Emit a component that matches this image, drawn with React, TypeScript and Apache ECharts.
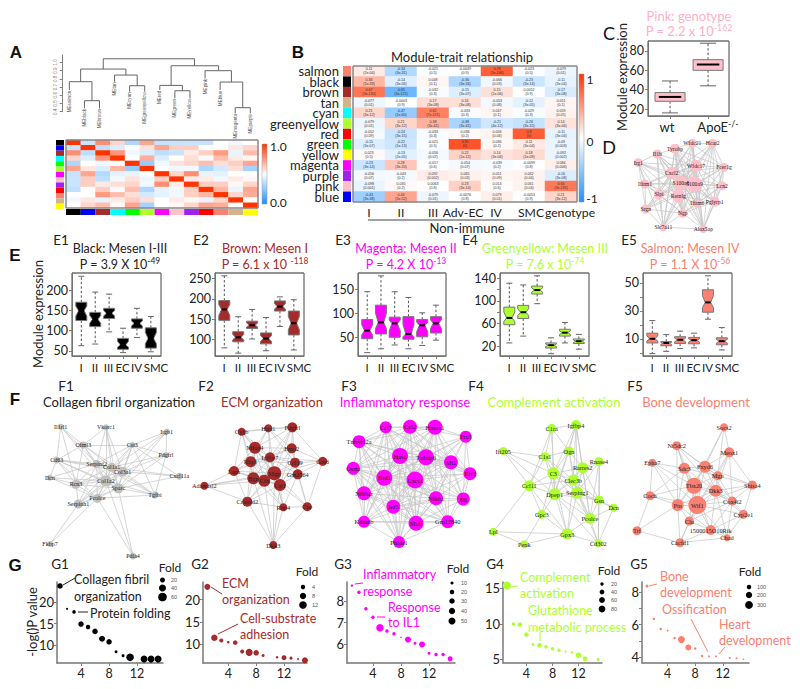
import React, { useEffect, useRef } from "react";
import * as echarts from "echarts";

const FONT = "Lato";
const SERIF = "Liberation Serif";
const SANS = "Liberation Sans";
const BROWN = "#A52A2A", MAGENTA = "#FF00FF", GY = "#ADFF2F", SALMON = "#FA8072", PINK = "#FFB0C8";

// Panel A
const aModuleColors = ["#000000", "#0000FF", "#A52A2A", "#00FFFF", "#00FF00", "#ADFF2F", "#FF00FF", "#FFC0CB", "#A020F0", "#FF0000", "#FA8072", "#D2B48C", "#FFFF00"];
const aMatrix = [
  [1, .38, .78, .6, .32, .72, .37, .38, .38, .37, .5, .47, .5],
  [.38, 1, .35, .42, .5, .57, .72, .62, .62, .5, .5, .56, .6],
  [.78, .35, 1, .76, .47, .42, .35, .38, .55, .62, .75, .45, .66],
  [.6, .42, .76, 1, .5, .7, .42, .5, .58, .48, .66, .55, .52],
  [.32, .5, .47, .5, 1, .27, .47, .57, .6, .66, .58, .62, .72],
  [.72, .56, .42, .68, .27, 1, .5, .47, .47, .32, .4, .58, .3],
  [.37, .72, .33, .44, .45, .5, 1, .6, .78, .45, .44, .5, .5],
  [.38, .62, .36, .47, .57, .46, .62, 1, .55, .55, .47, .55, .52],
  [.38, .62, .55, .58, .6, .47, .78, .55, 1, .62, .62, .52, .6],
  [.36, .5, .62, .48, .66, .32, .45, .47, .62, 1, .68, .45, .72],
  [.5, .5, .75, .66, .58, .4, .44, .47, .62, .68, 1, .6, .7],
  [.47, .56, .45, .55, .62, .58, .5, .55, .52, .45, .6, 1, .5],
  [.5, .6, .66, .52, .72, .3, .5, .52, .6, .72, .7, .5, 1],
];
const leafNames = ["MEsalmon", "MEblack", "MEbrown", "MEtan", "MEcyan", "MEgreenyellow", "MEred", "MEgreen", "MEyellow", "MEpink", "MEblue", "MEmagenta", "MEpurple"];
const leafHeights = [.663, .44, .44, .765, .643, .643, .663, .562, .562, .805, .663, .38, .38];
const merges = [
  [1, 2, .534, .44, .44], [0, 1.5, .765, .663, .534], [4, 5, .716, .643, .643], [3, 4.5, .846, .765, .716],
  [.75, 3.75, .919, .765, .846], [7, 8, .655, .562, .562], [6, 7.5, .72, .663, .655], [11, 12, .449, .38, .38],
  [10, 11.5, .761, .663, .449], [9, 10.75, .899, .805, .761], [6.75, 9.9, .959, .72, .899], [2.25, 8.3, 1.044, .919, .959],
];

// Panel B
const bRows = ["salmon", "black", "brown", "tan", "cyan", "greenyellow", "red", "green", "yellow", "magenta", "purple", "pink", "blue"];
const bRowColors = ["#FA8072", "#000000", "#A52A2A", "#D2B48C", "#00FFFF", "#ADFF2F", "#FF0000", "#00FF00", "#FFFF00", "#FF00FF", "#A020F0", "#FFC0CB", "#0000FF"];
const bCols = ["I", "II", "III", "Adv-EC", "IV", "SMC", "genotype"];
const bValues = [
  [0.11, -0.34, -0.021, -0.0049, 0.78, -0.023, -0.079],
  [0.36, -0.14, 0.048, -0.36, -0.066, -0.23, -0.11],
  [0.67, -0.65, -0.032, -0.15, 0.15, 0.0052, -0.17],
  [-0.077, -0.0003, 0.17, 0.16, -0.053, -0.12, 0.051],
  [0.21, -0.47, 0.62, -0.033, 0.047, -0.029, 0.059],
  [-0.079, 0.21, 0.38, -0.38, -0.21, -0.26, 0.14],
  [-0.052, -0.24, -0.033, 0.036, 0.056, 0.8, -0.11],
  [-0.15, -0.22, -0.021, 0.85, 0.036, 0.11, -0.09],
  [0.023, -0.13, -0.056, 0.22, 0.14, 0.18, -0.092],
  [-0.23, 0.28, -0.017, -0.054, -0.039, -0.0099, 0.084],
  [-0.056, -0.043, 0.092, 0.065, 0.051, 0.062, -0.16],
  [-0.098, 0.035, 0.0063, 0.23, 0.014, 0.061, 0.66],
  [-0.43, 0.44, -0.079, -0.0076, 0.079, -0.0053, 0.21],
];
const bPvalues = [
  ["2e-04", "3e-31", "0.5", "0.9", "3e-186", "0.5", "0.01"],
  ["1e-33", "3e-06", "0.1", "3e-34", "0.03", "3e-14", "3e-04"],
  ["3e-130", "3e-121", "0.3", "3e-07", "1e-06", "0.9", "3e-08"],
  ["0.01", "0.9", "3e-08", "3e-08", "0.08", "3e-05", "0.1"],
  ["3e-12", "1e-60", "7e-121", "0.3", "0.1", "0.3", "0.05"],
  ["0.01", "3e-12", "3e-41", "3e-41", "4e-12", "3e-15", "3e-06"],
  ["0.09", "3e-15", "0.3", "0.2", "0.06", "0", "3e-04"],
  ["3e-07", "1e-13", "0.5", "0", "0.2", "3e-04", "0.003"],
  ["0.5", "2e-05", "0.07", "1e-12", "3e-06", "1e-09", "0.002"],
  ["3e-14", "3e-20", "0.6", "0.07", "0.2", "0.8", "0.006"],
  ["0.07", "0.2", "0.002", "0.03", "0.09", "0.04", "3e-08"],
  ["0.001", "0.2", "0.8", "3e-14", "0.6", "0.04", "3e-135"],
  ["3e-48", "5e-52", "0.01", "0.8", "0.01", "0.9", "3e-12"],
];

// Panel C and E boxes: low, q1, median, q3, high
const cBoxes = [[16, 28, 32.5, 37, 49], [44, 60, 66, 71, 88]];
const e1Boxes = [[63, 125, 149, 170, 234], [67, 110, 128, 145, 195], [97, 130, 143, 155, 190], [46, 54, 65, 81, 106], [83, 106, 118, 129, 155], [48, 57, 81, 107, 135]];
const e2Boxes = [[79, 147, 174, 196, 257], [66, 94, 105, 119, 156], [101, 127, 135, 145, 174], [72, 89, 102, 116, 154], [132, 170, 181, 195, 205], [74, 111, 140, 170, 198]];
const e3Boxes = [[18, 47, 64, 87, 145], [26, 57, 81, 117, 178], [34, 50, 79, 92, 145], [26, 46, 57, 93, 133], [33, 51, 75, 87, 101], [44, 59, 79, 93, 117]];
const e4Boxes = [[26, 58, 70, 89, 131], [38, 69, 80, 92, 128], [95, 112, 119, 126, 144], [7, 17, 22, 26, 35], [26, 38, 44, 50, 62], [15, 25, 29, 33, 41]];
const e5Boxes = [[-0.6, 7, 10, 14, 23], [1, 5, 7, 8, 13], [3, 6.6, 9.3, 11.5, 15.5], [3.5, 6.4, 9, 11, 14], [24, 29, 36, 45, 55], [2, 5.7, 8.3, 10.7, 18]];
const eLabels = ["I", "II", "III", "EC", "IV", "SMC"];

// Networks: gene names, [x, y, node diameter], neighbour lists (base-36 node index)
const dGenes = ["Irg1", "Il1b", "Tyrobp", "Wfdc21", "Hcar2", "Wfdc17", "Fcer1g", "Cxcl2", "Ifitm1", "S100a8", "S100a9", "Lcn2", "Slpi", "Retnlg", "Ifitm6", "Pglyrp1", "Srgn", "Ngp", "Slc7a11", "Alox5ap"];
const dNodes = [[638.3, 162.7, 9], [657.3, 154, 9], [675, 148.7, 10], [692.3, 143.3, 9], [712.7, 143.3, 9], [696, 165.7, 12], [724, 167.3, 9], [671.7, 172.7, 12], [645, 184, 9], [681, 182.7, 14], [694.3, 184.3, 16], [722, 185.7, 9], [659, 194.3, 10], [678.3, 196, 13], [697.3, 203.3, 9], [714.7, 201.7, 10], [645.7, 209, 9], [682.7, 213.3, 9], [663.3, 227.3, 8], [703.3, 229, 8]];
const dEdges = "0:15789acdgi 1:2579acdefhi 2:35679adefhij 3:45679aceghj 4:5679abdefj 5:6789abcdefghij 6:79abdefj 7:89abcdefghij 8:9acdgh 9:abcdefghij a:bcdefghij b:defhj c:dghi d:efghij e:fhj f:hj g:hi h:ij i:j";
const f1Genes = ["Il1rl1", "Vkorc1", "Itgb1", "Ofml3", "Cst3", "Pdgfrl", "Cd63", "Serpinf2", "Col1a1", "Col3a1", "Dcn", "Cxcl11a", "Rcn3", "Col1a2", "Sparc", "Tgfbi", "Pcolce", "Serpinh1", "Fkbp7", "Pdia4"];
const f1Nodes = [[60.7, 426.7, 6], [106, 427.3, 6], [166.7, 431.7, 6], [83.3, 445, 7], [132.3, 445, 6], [166, 455, 6], [56.7, 460, 7], [96.7, 463.7, 8], [111.7, 467.3, 9], [122.7, 471.7, 10], [50, 477.7, 6], [179.3, 476.3, 7], [76, 484.3, 9], [106, 481, 11], [118.3, 488.3, 10], [155, 495, 7], [97.3, 498.3, 9], [78.3, 504, 9], [50, 544, 6], [133, 556, 7]];
const f1Edges = "0:367dc 1:3789de 2:4589e 3:46789cd 4:5789defb 5:89ef 6:789acdeg 7:89acdefgh 8:9bcdefgh 9:bcdefgh a:cdg b:e c:degh d:efghj e:fghj f:g g:hij h:i";
const f2Genes = ["Cygb", "Htra1", "Pdgfrl", "Mfap4", "Fmo2", "Rbp1", "Igfbp7", "Ccl19", "Gas6", "Lum", "Mgp", "Gm2564", "Adamtsl2", "Bgn", "Cfh", "Cst1", "Crispld2", "Rbp4", "Cpe", "Dkk3"];
const f2Nodes = [[241.7, 431.7, 8], [268.3, 428.3, 8], [292.3, 427.3, 10], [255, 447.7, 12], [291.7, 448.3, 10], [250.7, 461.7, 11], [270, 457.3, 10], [295, 462.7, 10], [322.7, 461.3, 9], [234, 471, 10], [274.3, 473.3, 14], [297.7, 474.3, 10], [204.3, 485.7, 8], [253.3, 478.3, 12], [264.3, 480.7, 12], [280, 485, 12], [247.3, 501.7, 10], [283.3, 507.3, 8], [307.3, 506.7, 9], [273.3, 545, 8]];
const f2Edges = "0:12356a9d 1:23456a7 2:34678ae 3:456a9def 4:5678abf 5:679adefg 6:789abdefh 7:8abfi 8:abi 9:acdefg a:bcdefghij b:fhi c:deg d:efghj e:fghj f:ghij g:hj h:ij i:j";
const f3Genes = ["Ccl7", "Tnfrsf12a", "Has1", "Osmr", "Ifrd1", "Nfkbiz", "Ier5", "Kdm6b", "Phlda1", "Ccl2", "Hmox1", "Ptx3", "Tnfaip6", "Mt2", "Il1r2", "Cxcl1", "Nfkb1", "Il6", "Maff", "Gm12840"];
const f3Nodes = [[385.7, 427.3, 12], [359, 441.7, 13], [400, 456, 16], [353.3, 468.3, 13], [384.3, 477.7, 16], [364, 493.3, 14], [393.3, 506.7, 14], [364, 521.7, 12], [399, 542, 12], [410, 426.7, 14], [435, 427.3, 15], [465.7, 436.7, 12], [426, 457.3, 16], [451, 462.3, 14], [470, 473.7, 13], [415, 480, 17], [436, 498.3, 14], [463.3, 499, 13], [416, 523.3, 15], [447.7, 521.7, 13]];
const f3Edges = "0:123456789acdefgi 1:23456789acdfgi 2:3456789abcdefghij 3:456789acdfgij 4:56789abcdefghij 5:6789acfgij 6:789abcdefghij 7:89cfgij 8:9cfgij 9:abcdefghi a:bcdefghij b:cdefgh c:defghij d:efghij e:fghj f:ghij g:hij h:ij i:j";
const f4Genes = ["C1ra", "Igfbp4", "Ifi205", "Ogn", "C1s1", "Rnase4", "Rarres2", "C3", "Clec3b", "Ccl11", "Dpep1", "Serping1", "Gsn", "Dcn", "Gpc3", "Pcolce", "Gpx3", "Lpl", "Penk", "Cd302"];
const f4Nodes = [[551.7, 428.3, 9], [576, 425, 10], [503.3, 451, 8], [569, 451, 9], [545, 456.7, 9], [599, 461.7, 9], [582.7, 467.7, 11], [553.3, 473.3, 12], [573.3, 480, 11], [529.3, 485.7, 11], [554.7, 494.3, 12], [577.3, 492.7, 12], [599, 500, 9], [613.7, 507.7, 8], [541.7, 514.3, 9], [590, 518.3, 11], [567.3, 534, 11], [493.3, 531.7, 8], [524.3, 544.3, 8], [598.3, 543.3, 8]];
const f4Edges = "0:13479a 1:3678abf 2:479a 3:4678ab 4:789ab 5:68bcfj 6:78abcf 7:89abefg 8:9abcfg 9:aegh a:bcefgj b:cdfgj c:dfj d:fj e:gi f:gj g:hij h:i";
const f5Genes = ["Socs2", "Nt5dc2", "Meox1", "Epha7", "Sdc3", "Fxyd6", "Mgp", "Shisa4", "Tbx20", "Dkk3", "Coch", "Cox4i2", "Ptn", "Wif1", "Cyp2e1", "Clu", "1500015O10Rik", "Trf", "Chad", "Cacfd1"];
const f5Nodes = [[724, 427.3, 8], [676.7, 445.7, 9], [729.3, 452.3, 10], [652.3, 462.7, 8], [684.3, 468.3, 11], [705, 466.7, 12], [717.7, 475.7, 9], [752.3, 485, 9], [694, 485.7, 16], [715.7, 490.7, 12], [650, 495.7, 9], [732.3, 501, 9], [677.7, 505, 12], [697.3, 505, 18], [743.3, 514.3, 9], [689.3, 521, 9], [710.7, 530, 10], [637, 530.7, 9], [727, 537.7, 7], [680, 542.7, 9]];
const f5Edges = "0:2568 1:45689cd 2:5679bd 3:48acd 4:5689acd 5:6789bcd 6:789bd 7:9bde 8:9abcdfg 9:bcdefgi a:cdh b:defgi c:dfghj d:efgij e:gi f:gj g:ij h:j i:j";

// Panel G: rank, -log(P), fold
const g1Points = [[1, 23.7, 24], [2, 18.4, 3], [3, 17.7, 10], [4, 14.9, 24], [5, 14.2, 16], [6, 13.2, 24], [7, 11.5, 29], [8, 10.8, 24], [9, 8.5, 7], [10, 7.6, 7], [11, 7.2, 45], [13, 6.8, 39], [14, 6.8, 39], [15, 6.8, 39]];
const g2Points = [[1, 22.9, 7.4], [2, 11.4, 8.7], [3, 10.8, 3.3], [4, 10.4, 1.3], [5, 10.3, 4.2], [6, 8.3, 3.3], [7, 8.1, 10], [8, 8, 6.3], [9, 7.4, 1.9], [11, 7, 1.3], [12, 6.9, 5.2], [13, 6.8, 1.9], [14, 6.6, 0.8], [15, 6.3, 7.4]];
const g3Points = [[1, 8.73, 6], [2, 8.42, 12], [3, 7.64, 12], [4, 7.25, 12], [5, 6.75, 56], [6, 6.6, 12], [7, 6.47, 12], [8, 6.3, 2], [9, 6.2, 36], [10, 6.03, 9], [11, 5.97, 36], [12, 5.56, 9], [13, 5.5, 12], [14, 5.5, 12], [15, 5.3, 25]];
const g4Points = [[1, 15.4, 114], [2, 10, 22], [3, 9.9, 36], [4, 8.5, 36], [5, 7.1, 16], [6, 7, 36], [7, 6.8, 22], [8, 6.5, 22], [9, 6.3, 22], [10, 6.1, 7], [11, 6, 11], [12, 5.6, 54], [13, 5.1, 36], [15, 5, 16]];
const g5Points = [[1, 8.35, 44], [2, 6.35, 31], [3, 5.73, 31], [4, 5.63, 20], [5, 5.18, 31], [6, 5.08, 242], [7, 4.6, 178], [8, 4.53, 31], [9, 4.08, 31], [10, 4.06, 20], [11, 4.06, 20], [13, 3.96, 20], [14, 3.94, 20], [15, 3.88, 11]];

function T(text: string, x: number, y: number, size: number, color = "#222", o: any = {}) {
  return {
    type: "text", x, y, rotation: o.rot || 0, silent: true,
    style: { text, fill: color, fontSize: size, fontFamily: o.font || FONT, fontWeight: o.bold ? "bold" : "normal", textAlign: o.align || "center", textVerticalAlign: "middle" },
  };
}
function S(base: string, sup: string, x: number, y: number, size: number, color: string, align = "center") {
  return {
    type: "text", x, y, silent: true,
    style: {
      text: `{a|${base}}{s|${sup}}`, textAlign: align, textVerticalAlign: "middle", fontFamily: FONT,
      rich: {
        a: { fontSize: size, fill: color, fontFamily: FONT, lineHeight: size + 3 },
        s: { fontSize: size * 0.68, fill: color, fontFamily: FONT, verticalAlign: "top", lineHeight: size + 3 },
      },
    },
  };
}
function L(x1: number, y1: number, x2: number, y2: number, color: string, w = 1) {
  return { type: "line", z: 20, silent: true, shape: { x1, y1, x2, y2 }, style: { stroke: color, lineWidth: w } };
}
function frame(l: number, t: number, r: number, b: number, color = "#707070", w = 1.3) {
  return [L(l, t, r, t, color, w), L(r, t, r, b, color, w), L(r, b, l, b, color, w), L(l, b, l, t, color, w)];
}

const boxRender = (color: string, boxW: number, notch: boolean, capHalf: number) => (params: any, api: any) => {
  const x = api.value(0);
  const [low, q1, med, q3, high] = [1, 2, 3, 4, 5].map((i) => api.value(i));
  const P = (v: number) => api.coord([x, v]);
  const cx = P(med)[0];
  const yLow = P(low)[1], yQ1 = P(q1)[1], yMed = P(med)[1], yQ3 = P(q3)[1], yHigh = P(high)[1];
  const h = boxW / 2;
  const dash = { stroke: "#555", lineWidth: 1, lineDash: [2.5, 2] };
  const cap = { stroke: "#666", lineWidth: 1 };
  const n1 = yMed + (yQ1 - yMed) * 0.55, n3 = yMed + (yQ3 - yMed) * 0.55;
  const pts = notch
    ? [[cx - h, yQ1], [cx + h, yQ1], [cx + h, n1], [cx + h * 0.5, yMed], [cx + h, n3], [cx + h, yQ3], [cx - h, yQ3], [cx - h, n3], [cx - h * 0.5, yMed], [cx - h, n1]]
    : [[cx - h, yQ1], [cx + h, yQ1], [cx + h, yQ3], [cx - h, yQ3]];
  const mh = notch ? h * 0.5 : h * 0.75;
  return {
    type: "group",
    children: [
      { type: "line", shape: { x1: cx, y1: yQ3, x2: cx, y2: yHigh }, style: dash },
      { type: "line", shape: { x1: cx, y1: yQ1, x2: cx, y2: yLow }, style: dash },
      { type: "line", shape: { x1: cx - capHalf, y1: yHigh, x2: cx + capHalf, y2: yHigh }, style: cap },
      { type: "line", shape: { x1: cx - capHalf, y1: yLow, x2: cx + capHalf, y2: yLow }, style: cap },
      { type: "polygon", shape: { points: pts }, style: { fill: color, stroke: "#777", lineWidth: 1 } },
      { type: "line", shape: { x1: cx - mh, y1: yMed, x2: cx + mh, y2: yMed }, style: { stroke: "#000", lineWidth: 2 } },
    ],
  };
};

function buildOption() {
  const grid: any[] = [], xAxis: any[] = [], yAxis: any[] = [], series: any[] = [], gfx: any[] = [], visualMap: any[] = [];
  const addGrid = (l: number, t: number, r: number, b: number) => {
    grid.push({ left: l, top: t, width: r - l, height: b - t });
    return grid.length - 1;
  };
  const axisStyle = { lineStyle: { color: "#808080", width: 1 } };
  const hiddenCat = (data: any[], gi: number, inverse = false) => ({ type: "category", data, gridIndex: gi, show: false, inverse });
  const numAxis = (gi: number, min: number, max: number, labels: number[], ticks: number[], fs = 12, extra: any = {}) => ({
    type: "value", gridIndex: gi, min, max, scale: true, splitLine: { show: false },
    axisLine: { show: true, onZero: false, ...axisStyle },
    axisTick: { show: true, length: 3, customValues: ticks, lineStyle: { color: "#808080" } },
    axisLabel: { show: true, customValues: labels, showMinLabel: true, showMaxLabel: true, fontSize: fs, fontFamily: FONT, color: "#222", margin: 4, ...(extra.label || {}) },
    ...(extra.axis || {}),
  });

  // overlay grid, one unit per pixel, for the network layouts
  const ov = addGrid(0, 0, 800, 689);
  xAxis.push({ type: "value", gridIndex: ov, min: 0, max: 800, show: false });
  yAxis.push({ type: "value", gridIndex: ov, min: 0, max: 689, inverse: true, show: false });
  const network = (genes: string[], nodes: number[][], edges: string, color: string, fs = 6.3) => {
    const links = edges.split(" ").flatMap((tok) => {
      const [a, b] = tok.split(":");
      return [...b].map((c) => ({ source: parseInt(a, 36), target: parseInt(c, 36) }));
    });
    series.push({
      type: "graph", coordinateSystem: "cartesian2d", xAxisIndex: ov, yAxisIndex: ov, layout: "none", silent: true, roam: false,
      data: genes.map((name, i) => ({ name, value: [nodes[i][0], nodes[i][1]], symbolSize: nodes[i][2] })),
      links,
      itemStyle: { color, opacity: 1 },
      lineStyle: { color: "#c4c4c4", width: 0.7, opacity: 1, curveness: 0 },
      label: { show: true, position: "inside", fontSize: fs, fontFamily: SERIF, color: "#222", formatter: "{b}" },
      labelLayout: { hideOverlap: false },
    });
  };
  network(dGenes, dNodes, dEdges, "#FFC0CB", 5.6);
  network(f1Genes, f1Nodes, f1Edges, "#C0C0C0", 6);
  network(f2Genes, f2Nodes, f2Edges, BROWN);
  network(f3Genes, f3Nodes, f3Edges, MAGENTA);
  network(f4Genes, f4Nodes, f4Edges, GY);
  network(f5Genes, f5Nodes, f5Edges, SALMON);

  const colorStrip = (colors: string[], vertical: boolean, l: number, t: number, r: number, b: number, rowNames?: string[]) => {
    const gi = addGrid(l, t, r, b);
    const idx = colors.map((_, i) => i);
    if (vertical) {
      xAxis.push(hiddenCat(["c"], gi));
      yAxis.push(rowNames ? {
        type: "category", data: rowNames, gridIndex: gi, inverse: true,
        axisLine: { show: false }, axisTick: { show: false },
        axisLabel: { fontSize: 13, fontFamily: FONT, color: "#222", margin: 4, interval: 0, hideOverlap: false },
      } : hiddenCat(idx, gi, true));
    } else {
      xAxis.push(hiddenCat(idx, gi));
      yAxis.push(hiddenCat(["c"], gi));
    }
    series.push({
      type: "custom", xAxisIndex: gi, yAxisIndex: gi, silent: true, encode: { x: 0, y: 1 },
      data: colors.map((_, i) => (vertical ? [0, i] : [i, 0])),
      renderItem: (params: any, api: any) => {
        const p = api.coord([api.value(0), api.value(1)]);
        const s = api.size([1, 1]);
        return { type: "rect", shape: { x: p[0] - s[0] / 2, y: p[1] - s[1] / 2, width: s[0], height: s[1] }, style: { fill: colors[params.dataIndex] } };
      },
    });
  };

  // Panel A: dendrogram
  const dg = addGrid(62.7, 55, 253, 111.7);
  xAxis.push({ type: "value", gridIndex: dg, min: -0.44, max: 12.18, show: false });
  yAxis.push(numAxis(dg, 0.4, 1.09, [0.4, 0.5, 0.6, 0.7, 0.8, 0.9, 1.0], [0.4, 0.5, 0.6, 0.7, 0.8, 0.9, 1.0], 4.6, {
    label: { rotate: 90, color: "#777", fontFamily: SANS, margin: 5, formatter: (v: number) => v.toFixed(1) },
  }));
  series.push({
    type: "custom", xAxisIndex: dg, yAxisIndex: dg, silent: true, encode: { x: [0, 1], y: [2, 3, 4] }, data: merges,
    renderItem: (_: any, api: any) => {
      const [a, b, h, ha, hb] = [0, 1, 2, 3, 4].map((i) => api.value(i));
      return {
        type: "polyline",
        shape: { points: [api.coord([a, ha]), api.coord([a, h]), api.coord([b, h]), api.coord([b, hb])] },
        style: { stroke: "#666", lineWidth: 1, fill: "none" },
      };
    },
  });
  series.push({
    type: "custom", xAxisIndex: dg, yAxisIndex: dg, silent: true, encode: { x: 0, y: 1 }, data: leafHeights.map((h, i) => [i, h]),
    renderItem: (_: any, api: any) => {
      const i = api.value(0);
      const p = api.coord([i, api.value(1)]);
      return {
        type: "text", x: p[0], y: p[1] + 0.5, rotation: Math.PI / 2,
        style: { text: leafNames[i], fill: "#555", fontSize: 4.6, fontFamily: SANS, textAlign: "right", textVerticalAlign: "middle" },
      };
    },
  });

  // Panel A: heatmap
  const ah = addGrid(66, 140, 258, 208);
  xAxis.push(hiddenCat(aModuleColors.map((_, i) => i), ah));
  yAxis.push(hiddenCat(aModuleColors.map((_, i) => i), ah, true));
  series.push({ type: "heatmap", xAxisIndex: ah, yAxisIndex: ah, silent: true, data: aMatrix.flatMap((row, y) => row.map((v, x) => [x, y, v])) });
  visualMap.push({ show: false, type: "continuous", seriesIndex: series.length - 1, min: 0, max: 1, dimension: 2, inRange: { color: ["#1E90FF", "#ffffff", "#FF3300"] } });
  colorStrip(aModuleColors, true, 56, 140, 64, 209);
  colorStrip(aModuleColors, false, 66, 209, 258, 215);
  const cbar = (x: number, y: number, w: number, h: number) => ({
    type: "rect", silent: true, shape: { x, y, width: w, height: h },
    style: { stroke: "#999", lineWidth: 0.5, fill: new echarts.graphic.LinearGradient(0, 0, 0, 1, [{ offset: 0, color: "#FF3300" }, { offset: 0.5, color: "#ffffff" }, { offset: 1, color: "#1E90FF" }]) },
  });
  gfx.push(...frame(66, 140, 258, 208, "#888", 1.5), cbar(262, 144, 5, 60), T("1.0", 270, 146, 12, "#222", { align: "left" }), T("0.0", 270, 202, 12, "#222", { align: "left" }));

  // Panel B
  const bh = addGrid(353, 66, 577, 202);
  xAxis.push(hiddenCat(bCols, bh));
  yAxis.push(hiddenCat(bRows, bh, true));
  series.push({
    type: "heatmap", xAxisIndex: bh, yAxisIndex: bh, silent: true,
    data: bValues.flatMap((row, y) => row.map((v, x) => [x, y, v])),
    label: {
      show: true, fontSize: 3.6, lineHeight: 4, fontFamily: SANS, color: "#333",
      formatter: (p: any) => `${p.value[2]}\n(${bPvalues[p.value[1]][p.value[0]]})`,
    },
    labelLayout: { hideOverlap: false },
  });
  visualMap.push({ show: false, type: "continuous", seriesIndex: series.length - 1, min: -1, max: 1, dimension: 2, inRange: { color: ["#1E90FF", "#ffffff", "#FF3300"] } });
  colorStrip(bRowColors, true, 343, 66, 351, 202, bRows);
  gfx.push(
    ...frame(353, 66, 577, 202, "#888", 1.5),
    cbar(579, 74, 5, 128),
    T("1", 590, 79, 12), T("0", 590, 141, 12), T("-1", 592, 198, 12),
    T("Module-trait relationship", 462, 57, 13),
    L(368, 220, 531, 220, "#444", 1),
    T("Non-immune", 467, 228, 13),
  );
  const bx = [369, 401, 433, 463, 496, 531, 570];
  bCols.forEach((c, i) => gfx.push(T(c, bx[i], 212, 12.2)));

  // Panel C
  const cg = addGrid(648, 41, 729, 116);
  xAxis.push(numAxis(cg, 0.42, 2.55, [], [1, 2], 12, { label: { show: false } }));
  yAxis.push(numAxis(cg, 12.8, 90.3, [20, 40, 60, 80], [20, 40, 60, 80], 12.5));
  series.push({
    type: "custom", xAxisIndex: cg, yAxisIndex: cg, silent: true, encode: { x: 0, y: [1, 2, 3, 4, 5] },
    data: cBoxes.map((b, i) => [i + 1, ...b]), renderItem: boxRender("#FFC0CB", 30, false, 8),
  });
  gfx.push(
    ...frame(648, 41, 729, 116),
    T("Pink: genotype", 689, 16, 13, PINK),
    S("P = 2.2 x 10", "-162", 689, 31, 13, PINK),
    T("Module expression", 622, 77, 13, "#222", { rot: Math.PI / 2 }),
    T("wt", 667, 127, 13),
    S("ApoE", "-/-", 718, 127, 13, "#222"),
  );

  // Panel E
  const ePanels = [
    { l: 72, r: 161, y: [37.6, 242], lab: [50, 100, 150, 200], tick: [50, 100, 150, 200], c: "#000000", d: e1Boxes, nm: "E1", nx: 61, t: "Black: Mesen I-III", tx: 120, pa: "P = 3.9 X 10", pb: "-49", tc: "#222" },
    { l: 215, r: 304, y: [59, 264], lab: [100, 150, 200, 250], tick: [100, 150, 200, 250], c: BROWN, d: e2Boxes, nm: "E2", nx: 201, t: "Brown: Mesen I", tx: 265, pa: "P = 6.1 x 10 ", pb: "-118", tc: BROWN },
    { l: 358, r: 446, y: [11, 184], lab: [50, 100, 150], tick: [50, 100, 150], c: MAGENTA, d: e3Boxes, nm: "E3", nx: 343, t: "Magenta: Mesen II", tx: 406, pa: "P = 4.2 X 10", pb: "-13", tc: MAGENTA },
    { l: 500, r: 589, y: [3, 149], lab: [20, 60, 100, 140], tick: [20, 40, 60, 80, 100, 120, 140], c: GY, d: e4Boxes, nm: "E4", nx: 470, t: "Greenyellow: Mesen III", tx: 545, pa: "P = 7.6 x 10", pb: "-74", tc: GY },
    { l: 643, r: 732, y: [-2.3, 57], lab: [10, 30, 50], tick: [0, 10, 20, 30, 40, 50], c: SALMON, d: e5Boxes, nm: "E5", nx: 629, t: "Salmon: Mesen IV", tx: 690, pa: "P = 1.1 X 10", pb: "-56", tc: SALMON },
  ];
  const eLabelOffsets = [9, 23, 36.5, 50.5, 64.5, 84];
  ePanels.forEach((p) => {
    const g = addGrid(p.l, 273, p.r, 356);
    xAxis.push(numAxis(g, 0.33, 6.73, [], [1, 2, 3, 4, 5, 6], 12, { label: { show: false } }));
    yAxis.push(numAxis(g, p.y[0], p.y[1], p.lab, p.tick, 12.5));
    series.push({
      type: "custom", xAxisIndex: g, yAxisIndex: g, silent: true, encode: { x: 0, y: [1, 2, 3, 4, 5] },
      data: p.d.map((b, i) => [i + 1, ...b]), renderItem: boxRender(p.c, 11, true, 3),
    });
    gfx.push(...frame(p.l, 273, p.r, 356), T(p.nm, p.nx, 240, 13.5), T(p.t, p.tx, 248, 12.5, p.tc), S(p.pa, p.pb, p.tx, 264, 12.5, p.tc));
    eLabels.forEach((t, i) => gfx.push(T(t, p.l + eLabelOffsets[i], 367, 11.5)));
  });
  gfx.push(T("Module expression", 38, 314, 13, "#222", { rot: Math.PI / 2 }));

  // Panel F headers
  [["F1", 66], ["F2", 206], ["F3", 349], ["F4", 476], ["F5", 635]].forEach(([t, x]: any) => gfx.push(T(t, x, 386, 13.5)));
  gfx.push(
    T("Collagen fibril organization", 119, 402, 13, "#222"),
    T("ECM organization", 272, 402, 13, BROWN),
    T("Inflammatory response", 405, 402, 13, MAGENTA),
    T("Complement activation", 554, 402, 13, GY),
    T("Bone development", 696, 402, 13, SALMON),
  );

  // Panel G
  const gPanels = [
    { l: 57, r: 163, x: [0.57, 15.7], y: [5.9, 24.6], lab: [10, 15, 20], tick: [10, 15, 20], d: g1Points, c: "#000000", k: 1.118, nm: "G1", nx: 60 },
    { l: 203, r: 307, x: [0.37, 15.3], y: [5.7, 24], lab: [10, 15, 20], tick: [10, 15, 20], d: g2Points, c: BROWN, k: 2.2, nm: "G2", nx: 200 },
    { l: 347, r: 455, x: [0.3, 15.7], y: [5.1, 8.9], lab: [6, 7, 8], tick: [6, 7, 8], d: g3Points, c: MAGENTA, k: 1, nm: "G3", nx: 343 },
    { l: 503, r: 602, x: [0.4, 15.6], y: [4.5, 15.9], lab: [5, 10, 15], tick: [5, 10, 15], d: g4Points, c: GY, k: 0.75, nm: "G4", nx: 495 },
    { l: 642, r: 749, x: [0.28, 15.8], y: [3.65, 8.6], lab: [4, 6, 8], tick: [4, 5, 6, 7, 8], d: g5Points, c: SALMON, k: 0.45, nm: "G5", nx: 639 },
  ];
  gPanels.forEach((p) => {
    const g = addGrid(p.l, 582, p.r, 663);
    xAxis.push(numAxis(g, p.x[0], p.x[1], [4, 8, 12], [4, 8, 12], 12.5, { label: { margin: 4 }, axis: { axisLine: { show: true, onZero: false, lineStyle: { color: "#777", width: 1.5 } } } }));
    yAxis.push(numAxis(g, p.y[0], p.y[1], p.lab, p.tick, 13, { label: { margin: 3 }, axis: { axisLine: { show: true, onZero: false, lineStyle: { color: "#777", width: 1.5 } } } }));
    series.push({
      type: "scatter", xAxisIndex: g, yAxisIndex: g, silent: true, data: p.d,
      symbolSize: (v: number[]) => p.k * Math.sqrt(v[2]), itemStyle: { color: p.c, opacity: 1 },
    });
    gfx.push(T(p.nm, p.nx, 564, 13.5));
  });
  const foldLegend = (cx: number, tx: number, ty: number, lx: number, items: [number, number][], k: number) => {
    gfx.push(T("Fold", tx, ty, 12));
    items.forEach(([v, y]) => {
      gfx.push({ type: "circle", silent: true, shape: { cx, cy: y, r: (k * Math.sqrt(v)) / 2 }, style: { fill: "#000" } });
      gfx.push(T(String(v), lx, y, 5.5, "#555", { font: SANS, align: "left" }));
    });
  };
  foldLegend(162.5, 170, 567, 171, [[20, 580], [40, 588], [60, 597]], 1.118);
  foldLegend(303, 307, 571, 312, [[4, 587], [8, 596], [12, 605]], 2.2);
  foldLegend(452, 458, 568, 461, [[10, 583], [20, 592], [30, 601], [40, 611], [50, 621]], 1);
  foldLegend(602, 609, 570, 611, [[20, 584], [40, 592], [60, 600], [80, 609]], 0.75);
  foldLegend(749, 750, 571, 757, [[100, 587], [200, 595], [300, 605]], 0.45);
  gfx.push(T("-log()P value", 32, 622, 13, "#222", { rot: Math.PI / 2 }));

  const note = (lines: [string, number, number][], c: string, size = 12.5) => lines.forEach(([t, x, y]) => gfx.push(T(t, x, y, size, c, { align: "left" })));
  note([["Collagen fibril", 74, 579], ["organization", 74, 596], ["Protein folding", 90, 613]], "#222");
  gfx.push(L(63, 585, 75, 578, "#222"), L(78, 612, 88, 612, "#222"));
  note([["ECM", 222, 583], ["organization", 222, 599], ["Cell-substrate", 240, 618], ["adhesion", 240, 634]], BROWN);
  gfx.push(L(211, 587, 222, 594, BROWN), L(218, 634, 238, 624, BROWN));
  note([["Inflammatory", 363, 574], ["response", 363, 591], ["Response", 388, 607], ["to IL1", 388, 622]], MAGENTA);
  gfx.push(L(355, 584, 363, 583, MAGENTA), L(377, 617, 385, 617, MAGENTA));
  note([["Complement", 520, 577], ["activation", 520, 593], ["Glutathione", 528, 610], ["metabolic process", 528, 627]], GY);
  gfx.push(L(511, 587, 518, 586, GY), L(540, 632, 540, 641, GY));
  note([["Bone", 660, 576], ["development", 660, 592], ["Ossification", 662, 609], ["Heart", 719, 624], ["development", 719, 640]], SALMON);
  gfx.push(L(649, 586, 657, 584, SALMON), L(691, 619, 708, 652, SALMON), L(719, 654, 725, 647, SALMON));

  // Panel letters
  gfx.push(
    T("A", 16, 52, 17, "#111", { bold: true, font: SANS }),
    T("B", 298, 52, 17, "#111", { bold: true, font: SANS }),
    T("C", 609, 33, 18, "#111"),
    T("D", 609, 147, 18, "#111"),
    T("E", 15, 255, 17, "#111", { bold: true, font: SANS }),
    T("F", 15, 399, 17, "#111", { bold: true, font: SANS }),
    T("G", 15, 565, 17, "#111", { bold: true, font: SANS }),
  );

  return { animation: false, backgroundColor: "#fff", grid, xAxis, yAxis, series, visualMap, graphic: { elements: gfx } };
}

export default function App() {
  const ref = useRef<HTMLDivElement>(null);
  useEffect(() => {
    document.body.style.margin = "0";
    const chart = echarts.init(ref.current!, undefined, { renderer: "svg" });
    chart.setOption(buildOption() as any);
    return () => chart.dispose();
  }, []);
  return <div ref={ref} style={{ width: 800, height: 689 }} />;
}
